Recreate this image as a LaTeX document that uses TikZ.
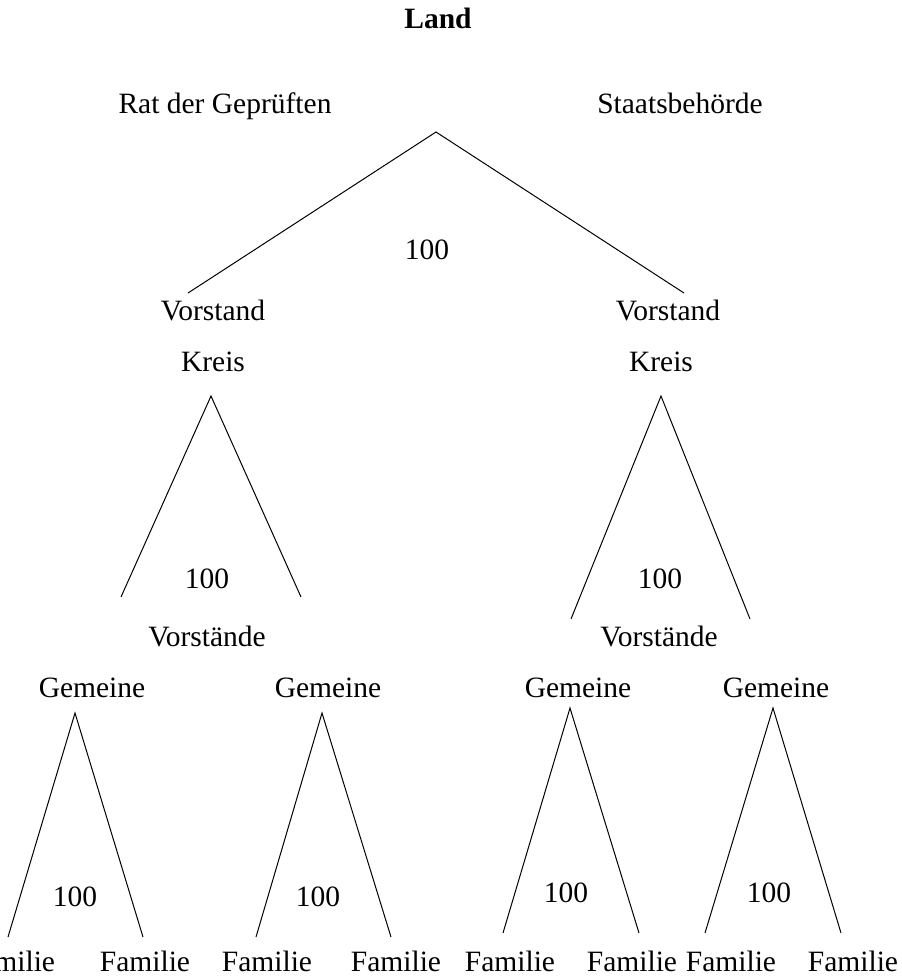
\documentclass[tikz,border=0pt]{standalone}
\usepackage{fontspec}
\setmainfont{Liberation Serif}
\begin{document}
\begin{tikzpicture}[x=1pt,y=-1pt,
  lbl/.style={inner sep=0pt,outer sep=0pt,text height=19.5pt,text depth=0pt,font=\fontsize{29.5}{35}\selectfont},
  ttl/.style={lbl,font=\fontsize{29.5}{35}\selectfont\bfseries},
  edge/.style={draw=black,line width=1pt}]
\useasboundingbox (0,0) rectangle (902,978);
% title and top labels
\node[ttl] (land) at (438,19) {Land};
\node[lbl] (rat) at (225,104) {Rat der Geprüften};
\node[lbl] (staat) at (680,104) {Staatsbehörde};
% top triangle
\coordinate (a0) at (436,132);
\coordinate (a0l) at (188,293);
\coordinate (a0r) at (684,293);
\draw[edge] (a0l) -- (a0) -- (a0r);
\node[lbl] (n0) at (427,250) {100};
\node[lbl] (vl) at (213,311) {Vorstand};
\node[lbl] (vr) at (668,311) {Vorstand};
\node[lbl] (kl) at (213,362) {Kreis};
\node[lbl] (kr) at (661,362) {Kreis};
% Kreis triangles
\coordinate (a1) at (211,396);
\coordinate (a1l) at (121,597);
\coordinate (a1r) at (301,597);
\draw[edge] (a1l) -- (a1) -- (a1r);
\coordinate (a2) at (661,396);
\coordinate (a2l) at (571,619);
\coordinate (a2r) at (750,619);
\draw[edge] (a2l) -- (a2) -- (a2r);
\node[lbl] (n1) at (207,579) {100};
\node[lbl] (n2) at (660,579) {100};
\node[lbl] (vsl) at (207,637) {Vorstände};
\node[lbl] (vsr) at (659,637) {Vorstände};
% Gemeine
\node[lbl] (g1) at (92,688) {Gemeine};
\node[lbl] (g2) at (328,688) {Gemeine};
\node[lbl] (g3) at (578,688) {Gemeine};
\node[lbl] (g4) at (776,688) {Gemeine};
\coordinate (b1) at (75,713);
\coordinate (b1l) at (8,937);
\coordinate (b1r) at (143,937);
\draw[edge] (b1l) -- (b1) -- (b1r);
\coordinate (b2) at (322,713);
\coordinate (b2l) at (256,937);
\coordinate (b2r) at (391,937);
\draw[edge] (b2l) -- (b2) -- (b2r);
\coordinate (b3) at (570,708);
\coordinate (b3l) at (503,933);
\coordinate (b3r) at (639,933);
\draw[edge] (b3l) -- (b3) -- (b3r);
\coordinate (b4) at (773,708);
\coordinate (b4l) at (705,933);
\coordinate (b4r) at (841,933);
\draw[edge] (b4l) -- (b4) -- (b4r);
\node[lbl] (m1) at (75,897) {100};
\node[lbl] (m2) at (318,897) {100};
\node[lbl] (m3) at (566,893) {100};
\node[lbl] (m4) at (769,893) {100};
% Familie
\node[lbl] (f1) at (10,962) {Familie};
\node[lbl] (f2) at (145,962) {Familie};
\node[lbl] (f3) at (267,962) {Familie};
\node[lbl] (f4) at (396,962) {Familie};
\node[lbl] (f5) at (510,962) {Familie};
\node[lbl] (f6) at (632,962) {Familie};
\node[lbl] (f7) at (731,962) {Familie};
\node[lbl] (f8) at (853,962) {Familie};
\end{tikzpicture}
\end{document}
